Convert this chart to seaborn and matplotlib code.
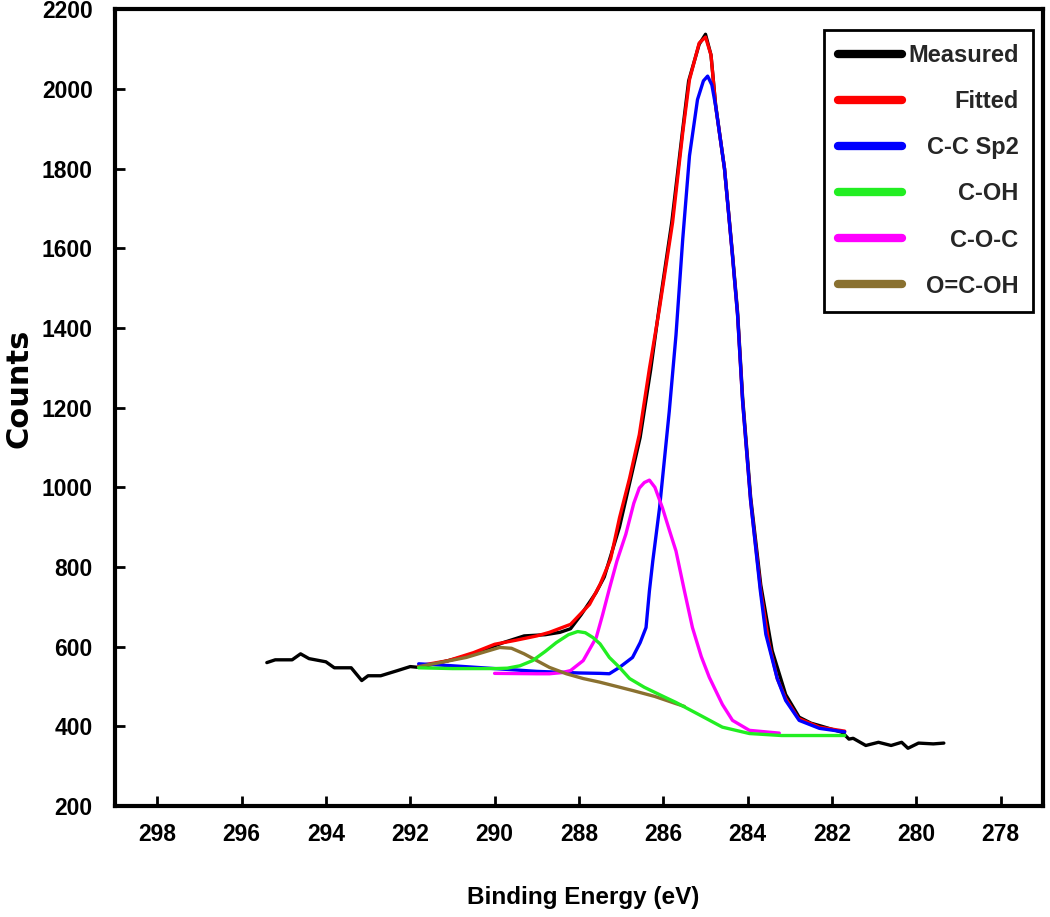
import matplotlib
matplotlib.use("Agg")
import matplotlib.pyplot as plt
from matplotlib.lines import Line2D
import seaborn as sns

# C1s spectrum (binding energy in eV, counts)
measured_be = [295.4, 295.2, 294.8, 294.6, 294.4, 294.0, 293.8, 293.4, 293.15, 293.0,
               292.7, 292.3, 292.0, 291.8, 291.5, 291.1, 290.6, 290.1, 289.8, 289.3,
               288.8, 288.45, 288.2, 287.95, 287.6, 287.4, 287.04, 286.8, 286.55, 286.3,
               286.1, 285.8, 285.55, 285.4, 285.15, 285.0, 284.87, 284.76, 284.55, 284.36,
               284.24, 284.12, 283.93, 283.69, 283.42, 283.1, 282.78, 282.5, 282.3, 281.76,
               281.6, 281.5, 281.2, 280.9, 280.6, 280.35, 280.2, 279.95, 279.6, 279.35]
measured_counts = [560, 567, 567, 582, 570, 562, 547, 547, 515, 527,
                   527, 540, 550, 548, 555, 565, 578, 598, 610, 627,
                   630, 636, 645, 680, 735, 775, 900, 1010, 1125, 1295,
                   1450, 1665, 1890, 2020, 2112, 2137, 2085, 1960, 1800, 1585,
                   1440, 1225, 975, 755, 590, 480, 423, 408, 402, 385,
                   368, 370, 352, 360, 352, 360, 345, 358, 356, 358]

fitted_be = [291.8, 291.1, 290.5, 290.0, 289.5, 289.0, 288.7, 288.2, 287.75, 287.5,
             287.25, 287.04, 286.8, 286.57, 286.33, 286.09, 285.78, 285.54, 285.38, 285.15,
             285.0, 284.87, 284.76, 284.55, 284.36, 284.24, 284.12, 283.93, 283.69, 283.5,
             283.3, 283.1, 282.8, 282.3, 281.7]
fitted_counts = [552, 565, 585, 606, 616, 627, 636, 656, 706, 756,
                 820, 923, 1023, 1132, 1298, 1450, 1665, 1890, 2023, 2115,
                 2130, 2085, 1957, 1800, 1580, 1432, 1215, 965, 740, 610,
                 520, 470, 420, 398, 388]

sp2_be = [291.8, 291.0, 290.0, 289.0, 288.0, 287.5, 287.28, 287.04, 286.73, 286.55,
          286.41, 286.33, 286.25, 286.09, 285.86, 285.7, 285.54, 285.38, 285.19, 285.05,
          284.95, 284.85, 284.76, 284.55, 284.36, 284.24, 284.12, 283.93, 283.7, 283.57,
          283.3, 283.1, 282.78, 282.3, 281.7]
sp2_counts = [557, 552, 545, 538, 534, 533, 532, 548, 573, 610,
              648, 740, 815, 948, 1190, 1382, 1623, 1832, 1973, 2020,
              2032, 2010, 1957, 1800, 1580, 1432, 1215, 965, 740, 631,
              520, 465, 415, 395, 386]

coh_be = [291.8, 291.0, 290.0, 289.7, 289.4, 289.1, 288.8, 288.54, 288.25, 288.03,
          287.85, 287.67, 287.5, 287.28, 287.04, 286.8, 286.45, 286.0, 285.7, 285.2,
          284.6, 283.96, 283.2, 281.7]
coh_counts = [547, 545, 545, 546, 552, 565, 588, 610, 630, 638,
              635, 623, 607, 573, 548, 520, 498, 475, 460, 432,
              398, 382, 377, 377]

coc_be = [290.0, 289.0, 288.7, 288.4, 288.2, 287.9, 287.59, 287.44, 287.28, 287.1,
          286.89, 286.7, 286.57, 286.45, 286.33, 286.2, 286.02, 285.85, 285.7, 285.5,
          285.31, 285.1, 284.91, 284.6, 284.36, 283.96, 283.25]
coc_counts = [533, 532, 532, 535, 540, 565, 623, 680, 745, 815,
              882, 960, 998, 1012, 1018, 1000, 948, 890, 840, 740,
              648, 575, 523, 455, 415, 390, 383]

ocoh_be = [291.8, 291.2, 290.67, 290.2, 289.88, 289.6, 289.3, 289.0, 288.7, 288.3,
           287.9, 287.51, 287.1, 286.73, 286.2, 285.7, 285.5]
ocoh_counts = [550, 562, 573, 588, 598, 596, 582, 565, 548, 532,
               520, 511, 500, 490, 475, 457, 450]

names = ["Measured", "Fitted", "C-C Sp2", "C-OH", "C-O-C", "O=C-OH"]
colors = ["#000000", "#ff0000", "#0000ff", "#22ee22", "#ff00ff", "#8a7130"]
x_ticks = list(range(278, 300, 2))
y_ticks = list(range(200, 2400, 200))

sns.set_theme(style="white")
plt.rcParams["font.family"] = ["Liberation Sans", "DejaVu Sans"]
plt.rcParams["font.weight"] = "bold"

fig = plt.figure(figsize=(10.5, 9.17), dpi=100)
ax = fig.add_axes([0.1095, 0.121, 0.8838, 0.869])

series = {
    "Measured": (measured_be, measured_counts),
    "Fitted": (fitted_be, fitted_counts),
    "C-C Sp2": (sp2_be, sp2_counts),
    "C-O-C": (coc_be, coc_counts),
    "O=C-OH": (ocoh_be, ocoh_counts),
    "C-OH": (coh_be, coh_counts),
}
for name, (xs, ys) in series.items():
    col = colors[names.index(name)]
    sns.lineplot(x=xs, y=ys, color=col, lw=2.4, sort=False, estimator=None, ax=ax)

ax.set_xlim(299, 277)
ax.set_ylim(200, 2200)
ax.set_xticks(x_ticks)
ax.set_yticks(y_ticks)
ax.tick_params(axis="both", direction="in", length=7, width=2, color="black",
               labelsize=16.5, labelcolor="black")
ax.tick_params(axis="x", pad=12, bottom=True, top=False)
ax.tick_params(axis="y", pad=16, left=True, right=False)
for sp in ax.spines.values():
    sp.set_visible(True)
    sp.set_color("black")
    sp.set_linewidth(3)

ax.set_xlabel("Binding Energy (eV)", fontsize=17.5, fontweight="bold", color="black")
ax.xaxis.set_label_coords(0.505, -0.10)
ax.set_ylabel("Counts", fontsize=22, fontweight="bold", family="DejaVu Sans", color="black")
ax.yaxis.set_label_coords(-0.088, 0.524)

handles = [Line2D([0], [0], color=c, lw=6) for c in colors]
leg = ax.legend(handles, names, loc="upper right", bbox_to_anchor=(0.989, 0.974),
                borderaxespad=0, prop={"weight": "bold", "size": 17}, frameon=True,
                fancybox=False, framealpha=1, edgecolor="black", handlelength=2.7,
                handletextpad=0.25, borderpad=0.6, labelspacing=0.98)
leg.get_frame().set_linewidth(2)

# right-align the legend labels by shifting the shorter ones
fig.canvas.draw()
renderer = fig.canvas.get_renderer()
widths = [t.get_window_extent(renderer).width for t in leg.get_texts()]
shift = max(widths)
for t, w in zip(leg.get_texts(), widths):
    t.set_position((shift - w, 0))

fig.savefig("out.png", dpi=100)
